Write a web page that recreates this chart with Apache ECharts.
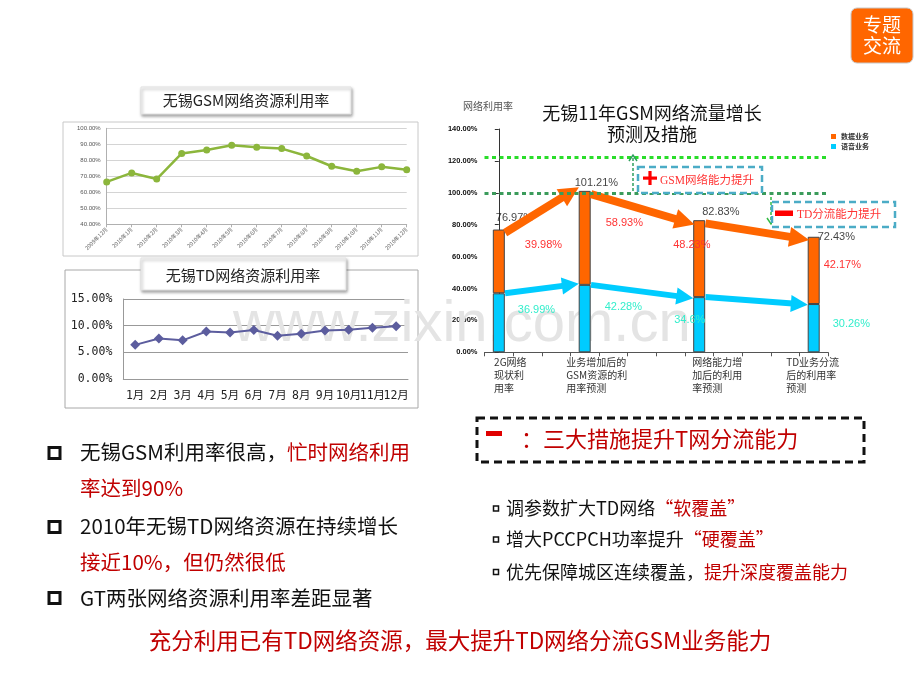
<!DOCTYPE html>
<html><head><meta charset="utf-8">
<script src="https://cdn.jsdelivr.net/npm/echarts@6/dist/echarts.min.js"></script>
<style>html,body{margin:0;padding:0;background:#fff}#c{width:920px;height:690px}</style>
</head><body><div id="c"></div>
<script>
// ---- data ----
const gsmMonths = ['2009年12月','2010年1月','2010年2月','2010年3月','2010年4月','2010年5月','2010年6月','2010年7月','2010年8月','2010年9月','2010年10月','2010年11月','2010年12月'];
const gsmUtil = [66.5, 72.1, 68.3, 84.3, 86.5, 89.4, 88.2, 87.3, 82.7, 76.3, 73.2, 75.9, 74.1];
const tdMonths = ['1月','2月','3月','4月','5月','6月','7月','8月','9月','10月','11月','12月'];
const tdUtil = [6.4, 7.6, 7.25, 8.9, 8.7, 9.2, 8.1, 8.5, 9.1, 9.25, 9.6, 9.9];
const stageNames = ['2G网络\n现状利\n用率', '业务增加后的\nGSM资源的利\n用率预测', '网络能力增\n加后的利用\n率预测', 'TD业务分流\n后的利用率\n预测'];
const stageSlots = [0, 3, 7, 11];
const slotCount = 12;
const dataTraffic = [39.98, 58.93, 48.23, 42.17];
const voiceTraffic = [36.99, 42.28, 34.6, 30.26];
const capacityLevels = [122, 100];
const seriesNames = ['数据业务', '语音业务'];

// ---- label placement (style only) ----
const dataLabelOffset = [[26,-16],[21,-15],[-26,-14],[10,-5]];
const voiceLabelOffset = [[19,-13],[20,-12],[-25,-5],[19,-4]];
const totalLabelOffset = [[-3,-12],[-10,-8],[3,-8],[4,0]];
const stageLabelPad = [[0,0,0,23],[0,0,0,24],[0,0,0,36],[0,2,0,0]];

const round2 = v => Math.round(v * 100) / 100;
const totals = dataTraffic.map((v, i) => round2(v + voiceTraffic[i]));
function toSlots(arr, fn) {
  const out = Array(slotCount).fill('-');
  stageSlots.forEach((s, i) => { out[s] = fn ? fn(arr[i], i) : arr[i]; });
  return out;
}
const slotLabels = Array(slotCount).fill('').map((v, i) => ({ value: '' }));
stageSlots.forEach((s, i) => { slotLabels[s] = { value: stageNames[i], textStyle: { padding: stageLabelPad[i] } }; });

const orangeArrows = [0,1,2].map(i => ({ coords: [[stageSlots[i] + 0.22, totals[i] - 2], [stageSlots[i+1] - 0.5, totals[i+1] - 1]] }));
const cyanArrows = [0,1,2].map(i => ({ coords: [[stageSlots[i] + 0.22, voiceTraffic[i]], [stageSlots[i+1] - 0.5, voiceTraffic[i+1]]] }));

const CJK = 'Noto Sans CJK SC';
const RED = '#c00000';
const pct = v => v.toFixed(2) + '%';

const chart = echarts.init(document.getElementById('c'), null, { renderer: 'canvas' });

const graphics = [
  // badge
  { type: 'rect', z: 5, shape: { x: 851, y: 8, width: 62, height: 55, r: 6 }, style: { fill: '#ff6600', stroke: '#c8c8c8', lineWidth: 1 } },
  { type: 'text', z: 6, style: { text: '专题', x: 882, y: 25, fill: '#fff', font: '19px "Noto Sans CJK SC"', align: 'center', verticalAlign: 'middle', textAlign: 'center', textVerticalAlign: 'middle' } },
  { type: 'text', z: 6, style: { text: '交流', x: 882, y: 46, fill: '#fff', font: '19px "Noto Sans CJK SC"', align: 'center', verticalAlign: 'middle', textAlign: 'center', textVerticalAlign: 'middle' } },
  // GSM frame
  { type: 'rect', z: 0, shape: { x: 63, y: 122, width: 355, height: 134 }, style: { fill: 'none', stroke: '#c8c8c8', lineWidth: 1 } },
  { type: 'rect', z: 1, shape: { x: 141, y: 87, width: 210, height: 27 }, style: { fill: '#fff', stroke: '#e2e2e2', lineWidth: 1, shadowBlur: 3, shadowOffsetX: 1, shadowOffsetY: 2, shadowColor: 'rgba(0,0,0,0.35)' } },
  { type: 'text', z: 2, style: { text: '无锡GSM网络资源利用率', x: 246, y: 100, fill: '#222', font: '15px "Noto Sans CJK SC"', align: 'center', verticalAlign: 'middle', textAlign: 'center', textVerticalAlign: 'middle' } },
  // TD frame
  { type: 'rect', z: 0, shape: { x: 65, y: 270, width: 353, height: 138 }, style: { fill: 'none', stroke: '#a8a8a8', lineWidth: 1 } },
  { type: 'rect', z: 1, shape: { x: 141, y: 258, width: 205, height: 32 }, style: { fill: '#fff', stroke: '#e2e2e2', lineWidth: 1, shadowBlur: 3, shadowOffsetX: 1, shadowOffsetY: 2, shadowColor: 'rgba(0,0,0,0.35)' } },
  { type: 'text', z: 2, style: { text: '无锡TD网络资源利用率', x: 243, y: 275, fill: '#222', font: '15px "Noto Sans CJK SC"', align: 'center', verticalAlign: 'middle', textAlign: 'center', textVerticalAlign: 'middle' } },
  // watermark
  { type: 'text', z: 1, style: { text: 'www.zixin.com.cn', x: 233, y: 325, fill: '#e4e4e4', font: '58px "Liberation Sans"', align: 'left', verticalAlign: 'middle', textAlign: 'left', textVerticalAlign: 'middle' } },
  // right chart titles
  { type: 'text', z: 5, style: { text: '网络利用率', x: 463, y: 106, fill: '#555', font: '10px "Noto Sans CJK SC"', align: 'left', verticalAlign: 'middle', textAlign: 'left', textVerticalAlign: 'middle' } },
  { type: 'text', z: 5, style: { text: '无锡11年GSM网络流量增长', x: 652, y: 113, fill: '#111', font: '18px "Noto Sans CJK SC"', align: 'center', verticalAlign: 'middle', textAlign: 'center', textVerticalAlign: 'middle' } },
  { type: 'text', z: 5, style: { text: '预测及措施', x: 652, y: 134, fill: '#111', font: '18px "Noto Sans CJK SC"', align: 'center', verticalAlign: 'middle', textAlign: 'center', textVerticalAlign: 'middle' } },
  // green vertical arrows
  { type: 'line', z: 10, shape: { x1: 633, y1: 191, x2: 633, y2: 157 }, style: { stroke: '#2e9e5e', lineWidth: 1.5, lineDash: [3, 2] } },
  { type: 'polyline', z: 10, shape: { points: [[629, 161], [633, 155], [637, 161]] }, style: { stroke: '#2e9e5e', lineWidth: 1.5, fill: 'none' } },
  { type: 'line', z: 10, shape: { x1: 771, y1: 197, x2: 771, y2: 222 }, style: { stroke: '#33bb44', lineWidth: 1.5, lineDash: [3, 2] } },
  { type: 'polyline', z: 10, shape: { points: [[767, 218], [771, 224], [775, 218]] }, style: { stroke: '#33bb44', lineWidth: 1.5, fill: 'none' } },
  // dashed cyan box 1
  { type: 'rect', z: 10, shape: { x: 638, y: 167, width: 124, height: 26 }, style: { fill: '#fff', stroke: '#4bacc6', lineWidth: 2.5, lineDash: [7, 4] } },
  { type: 'rect', z: 11, shape: { x: 643, y: 176.5, width: 14, height: 3.2 }, style: { fill: '#ff0000' } },
  { type: 'rect', z: 11, shape: { x: 648.4, y: 171, width: 3.2, height: 14 }, style: { fill: '#ff0000' } },
  { type: 'text', z: 11, style: { text: 'GSM网络能力提升', x: 660, y: 181, fill: '#ff3333', font: '11.5px "Liberation Serif", "Noto Sans CJK SC"', align: 'left', verticalAlign: 'middle', textAlign: 'left', textVerticalAlign: 'middle' } },
  // dashed cyan box 2
  { type: 'rect', z: 10, shape: { x: 772, y: 202, width: 123, height: 25 }, style: { fill: '#fff', stroke: '#4bacc6', lineWidth: 2.5, lineDash: [7, 4] } },
  { type: 'rect', z: 11, shape: { x: 775, y: 210.5, width: 18, height: 5.5 }, style: { fill: '#ff0000' } },
  { type: 'text', z: 11, style: { text: 'TD分流能力提升', x: 797, y: 214.5, fill: '#ff3333', font: '11.5px "Liberation Serif", "Noto Sans CJK SC"', align: 'left', verticalAlign: 'middle', textAlign: 'left', textVerticalAlign: 'middle' } },
];

// left bullets
const bulletRich = { k: { fill: '#111' }, r: { fill: RED } };
[[453], [527], [598]].forEach(([cy]) => {
  graphics.push({ type: 'rect', z: 5, shape: { x: 49, y: cy - 5.5, width: 11, height: 11 }, style: { fill: 'none', stroke: '#111', lineWidth: 3 } });
});
[
  ['{k|无锡GSM利用率很高，}{r|忙时网络利用}', 452.5],
  ['{r|率达到90%}', 488.5],
  ['{k|2010年无锡TD网络资源在持续增长}', 526.5],
  ['{r|接近10%，但仍然很低}', 562],
  ['{k|GT两张网络资源利用率差距显著}', 598.5]
].forEach(([t, y]) => {
  graphics.push({ type: 'text', z: 5, style: { text: t, x: 80, y: y, font: '20.5px "Noto Sans CJK SC"', rich: bulletRich, align: 'left', verticalAlign: 'middle', textAlign: 'left', textVerticalAlign: 'middle' } });
});
// right dashed black box
graphics.push({ type: 'rect', z: 5, shape: { x: 477, y: 418, width: 387, height: 44 }, style: { fill: 'none', stroke: '#111', lineWidth: 3, lineDash: [8, 5] } });
graphics.push({ type: 'rect', z: 6, shape: { x: 486, y: 431, width: 16, height: 5 }, style: { fill: '#e00000' } });
graphics.push({ type: 'text', z: 6, style: { text: '：三大措施提升T网分流能力', x: 521, y: 438.5, fill: RED, font: '22px "Noto Sans CJK SC"', align: 'left', verticalAlign: 'middle', textAlign: 'left', textVerticalAlign: 'middle' } });
// sub bullets
[
  ['{k|调参数扩大TD网络}{r|“软覆盖”}', 508.5],
  ['{k|增大PCCPCH功率提升}{r|“硬覆盖”}', 539.5],
  ['{k|优先保障城区连续覆盖，}{r|提升深度覆盖能力}', 572]
].forEach(([t, y]) => {
  graphics.push({ type: 'rect', z: 5, shape: { x: 493.5, y: y - 2.5, width: 5, height: 5 }, style: { fill: 'none', stroke: '#111', lineWidth: 1.5 } });
  graphics.push({ type: 'text', z: 5, style: { text: t, x: 506, y: y, font: '18px "Noto Sans CJK SC"', rich: bulletRich, align: 'left', verticalAlign: 'middle', textAlign: 'left', textVerticalAlign: 'middle' } });
});
// bottom conclusion
graphics.push({ type: 'text', z: 5, style: { text: '充分利用已有TD网络资源，最大提升TD网络分流GSM业务能力', x: 460, y: 640, fill: RED, font: '22.5px "Noto Sans CJK SC"', align: 'center', verticalAlign: 'middle', textAlign: 'center', textVerticalAlign: 'middle' } });

const option = {
  animation: false,
  backgroundColor: '#fff',
  textStyle: { fontFamily: CJK },
  legend: {
    data: seriesNames, orient: 'vertical', left: 831, top: 133, padding: 0,
    itemWidth: 5, itemHeight: 5, itemGap: 3, icon: 'rect',
    itemStyle: { borderWidth: 0 },
    textStyle: { fontSize: 7, fontWeight: 'bold', color: '#333', fontFamily: CJK }
  },
  grid: [
    { left: 106.7, top: 128.3, width: 300, height: 96, show: false },
    { left: 123.3, top: 299, width: 284.7, height: 80, show: false },
    { left: 484.5, top: 129, width: 343.5, height: 223.3, show: false }
  ],
  xAxis: [
    { type: 'category', gridIndex: 0, data: gsmMonths, boundaryGap: false,
      axisLine: { lineStyle: { color: '#b0b0b0' } },
      axisTick: { show: true, length: 3, lineStyle: { color: '#b0b0b0' } },
      axisLabel: { interval: 0, rotate: 45, fontSize: 5.5, color: '#666', margin: 4, fontFamily: CJK } },
    { type: 'category', gridIndex: 1, data: tdMonths,
      axisLine: { lineStyle: { color: '#999' } }, axisTick: { show: false },
      axisLabel: { interval: 0, fontSize: 11.5, color: '#222', margin: 11, fontFamily: '"DejaVu Sans Mono", "Noto Sans CJK SC"' } },
    { type: 'category', gridIndex: 2, data: slotLabels,
      axisLine: { lineStyle: { color: '#555' } },
      axisTick: { show: true, length: 4, interval: 0, lineStyle: { color: '#555' } },
      axisLabel: { interval: 0, margin: 3,
        formatter: v => v ? v.split('\n').map(s => '{l|' + s + '}').join('\n') : '',
        rich: { l: { align: 'left', fontSize: 10, lineHeight: 13, color: '#333', fontFamily: CJK } } } },
    { type: 'value', gridIndex: 2, min: -0.5, max: slotCount - 0.5, show: false }
  ],
  yAxis: [
    { type: 'value', gridIndex: 0, min: 40, max: 100, interval: 10,
      axisLine: { show: true, lineStyle: { color: '#b0b0b0' } }, axisTick: { show: false },
      splitLine: { lineStyle: { color: '#d4d4d4' } },
      axisLabel: { fontSize: 6, color: '#555', margin: 6, fontFamily: 'Liberation Sans', formatter: pct } },
    { type: 'value', gridIndex: 1, min: 0, max: 15, interval: 5,
      axisLine: { show: true, lineStyle: { color: '#999' } }, axisTick: { show: false },
      splitLine: { lineStyle: { color: '#999' } },
      axisLabel: { fontSize: 11.5, color: '#222', margin: 11, fontFamily: 'DejaVu Sans Mono', formatter: pct } },
    { type: 'value', gridIndex: 2, min: 0, max: 140, interval: 20,
      axisLine: { show: true, lineStyle: { color: '#333' } },
      axisTick: { show: true, length: 4, lineStyle: { color: '#333' } },
      splitLine: { show: false },
      axisLabel: { fontSize: 7.5, fontWeight: 'bold', color: '#111', margin: 7, fontFamily: 'Liberation Sans', formatter: pct } }
  ],
  series: [
    { type: 'line', name: 'GSM利用率', xAxisIndex: 0, yAxisIndex: 0, data: gsmUtil,
      symbol: 'circle', symbolSize: 7, lineStyle: { color: '#8cb63c', width: 2.5 }, itemStyle: { color: '#8cb63c' } },
    { type: 'line', name: 'TD利用率', xAxisIndex: 1, yAxisIndex: 1, data: tdUtil,
      symbol: 'diamond', symbolSize: 10, lineStyle: { color: '#5c5d9e', width: 2 }, itemStyle: { color: '#5c5d9e' } },
    { type: 'bar', name: seriesNames[1], xAxisIndex: 2, yAxisIndex: 2, stack: 'u', barWidth: 12,
      data: toSlots(voiceTraffic, (v, i) => ({ value: v, label: { offset: voiceLabelOffset[i] } })),
      itemStyle: { color: '#00ccff', borderColor: '#444', borderWidth: 1 },
      label: { show: true, position: 'inside', align: 'left', verticalAlign: 'middle', color: '#33eecc', textBorderWidth: 0,
        fontSize: 11, fontFamily: 'Liberation Sans', formatter: p => p.value + '%' },
      markLine: { silent: true, symbol: 'none', label: { show: false },
        data: [
          { yAxis: capacityLevels[0], lineStyle: { color: '#2add2a', width: 3, type: [4, 3.5] } },
          { yAxis: capacityLevels[1], lineStyle: { color: '#3b9b5b', width: 3, type: [4, 3.5] } }
        ] } },
    { type: 'bar', name: seriesNames[0], xAxisIndex: 2, yAxisIndex: 2, stack: 'u', barWidth: 12,
      data: toSlots(dataTraffic, (v, i) => ({ value: v, label: { offset: dataLabelOffset[i] } })),
      itemStyle: { color: '#ff6600', borderColor: '#444', borderWidth: 1 },
      label: { show: true, position: 'inside', align: 'left', verticalAlign: 'middle', color: '#ff3333', textBorderWidth: 0,
        fontSize: 11, fontFamily: 'Liberation Sans', formatter: p => p.value + '%' } },
    { type: 'scatter', name: '合计', xAxisIndex: 2, yAxisIndex: 2, symbolSize: 1,
      data: toSlots(totals, (v, i) => ({ value: v, label: { offset: totalLabelOffset[i] } })),
      itemStyle: { color: 'rgba(0,0,0,0)' },
      label: { show: true, position: 'inside', align: 'left', verticalAlign: 'middle', color: '#111', textBorderWidth: 0,
        fontSize: 11, fontFamily: 'Liberation Sans', formatter: p => p.value + '%' } },
    { type: 'lines', coordinateSystem: 'cartesian2d', xAxisIndex: 3, yAxisIndex: 2, z: 4,
      data: orangeArrows, symbol: ['none', 'triangle'], symbolSize: 20,
      lineStyle: { color: '#ff6600', width: 8, opacity: 1, curveness: 0 } },
    { type: 'lines', coordinateSystem: 'cartesian2d', xAxisIndex: 3, yAxisIndex: 2, z: 4,
      data: cyanArrows, symbol: ['none', 'triangle'], symbolSize: 17,
      lineStyle: { color: '#00ccff', width: 6, opacity: 1, curveness: 0 } }
  ],
  graphic: { elements: graphics }
};
chart.setOption(option);
</script>
</body></html>
